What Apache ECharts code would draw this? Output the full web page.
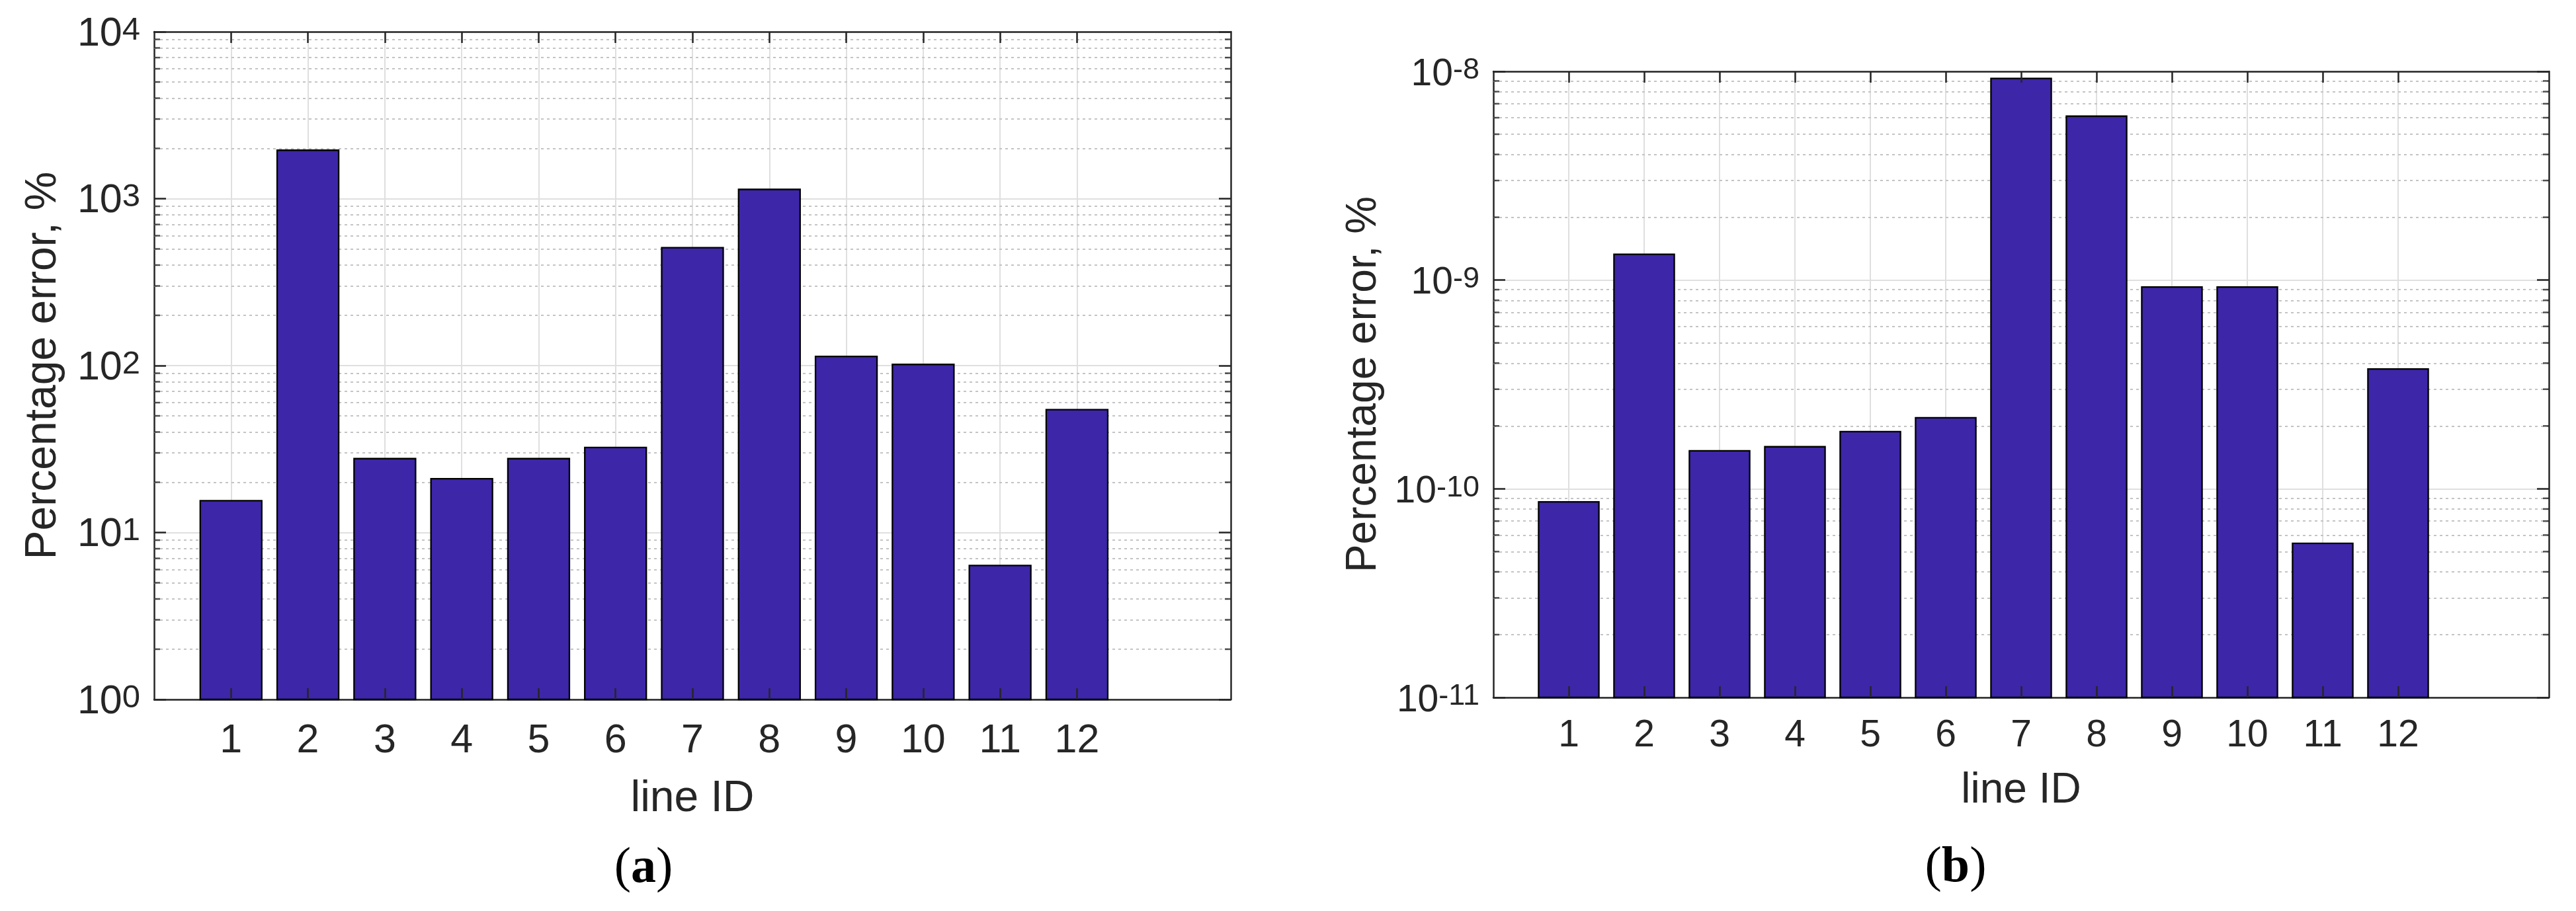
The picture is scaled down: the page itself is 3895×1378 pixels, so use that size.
<!DOCTYPE html>
<html>
<head>
<meta charset="utf-8">
<script src="https://cdn.jsdelivr.net/npm/echarts@6/dist/echarts.min.js"></script>
<style>
html,body{margin:0;padding:0;background:#fff;}
#c{width:3895px;height:1378px;}
</style>
</head>
<body>
<div id="c"></div>
<script>
// ---- data ----
const categories = ['1','2','3','4','5','6','7','8','9','10','11','12'];
const errorsA = [15.5, 1950, 27.7, 21.0, 27.7, 32.3, 509, 1136, 113.5, 101.6, 6.34, 54.5];
const errorsB = [8.65e-11, 1.33e-9, 1.52e-10, 1.59e-10, 1.88e-10, 2.19e-10, 9.25e-9, 6.10e-9, 9.26e-10, 9.26e-10, 5.48e-11, 3.75e-10];
const yRangeA = [1, 1e4];
const yRangeB = [1e-11, 1e-8];
const xName = 'line ID';
const yName = 'Percentage error, %';
const panelLabels = ['a', 'b'];

// ---- style ----
const AXIS = '#262626';
const FONT = 'Liberation Sans, Arial, Helvetica, sans-serif';
const BAR_FILL = '#3D26A8';
const slots = ['pad0'].concat(categories, ['pad13', 'pad14']);
const isCat = (i) => i >= 1 && i <= categories.length;

function minorValues(range) {
  const out = [];
  const e0 = Math.round(Math.log10(range[0]));
  const e1 = Math.round(Math.log10(range[1]));
  for (let e = e0; e < e1; e++) {
    for (let k = 2; k <= 9; k++) out.push(k * Math.pow(10, e));
  }
  return out;
}

function expLabel(v) {
  const e = Math.round(Math.log10(v));
  return '{b|10}{s|' + (e < 0 ? '-' : '') + Math.abs(e) + '}';
}

const panels = [
  { grid: {left: 233, top: 48, width: 1628, height: 1010}, values: errorsA, range: yRangeA,
    tick: 61, sup: 49, supPad: 32, padTop: 8, name: 66, xGap: 118, yGap: 134, xMargin: 33, yMargin: 21 },
  { grid: {left: 2258, top: 108, width: 1596, height: 947}, values: errorsB, range: yRangeB,
    tick: 57, sup: 45, supPad: 28, padTop: 10, name: 64, xGap: 109, yGap: 164, xMargin: 30, yMargin: 21 }
];

const option = {
  backgroundColor: '#ffffff',
  animation: false,
  grid: [], xAxis: [], yAxis: [], series: [],
  graphic: []
};

panels.forEach((p, gi) => {
  option.grid.push(Object.assign({containLabel: false, outerBoundsMode: 'none'}, p.grid));
  const xb = option.xAxis.length;
  const yb = option.yAxis.length;
  // main bottom x axis: line, labels, vertical grid
  option.xAxis.push({
    type: 'category', gridIndex: gi, data: slots, boundaryGap: false, position: 'bottom',
    axisLine: {show: true, onZero: false, lineStyle: {color: AXIS, width: 2.5}},
    axisTick: {show: false},
    axisLabel: {show: true, interval: (i) => isCat(i), margin: p.xMargin,
      fontSize: p.tick, fontFamily: FONT, color: AXIS},
    splitLine: {show: true, interval: (i) => isCat(i), lineStyle: {color: '#dfdfdf', width: 2}},
    name: xName, nameLocation: 'middle', nameGap: p.xGap,
    nameTextStyle: {fontSize: p.name, fontFamily: FONT, color: AXIS}
  });
  // overlay bottom ticks
  option.xAxis.push({
    type: 'category', gridIndex: gi, data: slots, boundaryGap: false, position: 'bottom', z: 10,
    axisLine: {show: false, onZero: false},
    axisTick: {show: true, inside: true, length: 17, interval: (i) => isCat(i), lineStyle: {color: AXIS, width: 2.5}},
    axisLabel: {show: false}, splitLine: {show: false}
  });
  // top axis
  option.xAxis.push({
    type: 'category', gridIndex: gi, data: slots, boundaryGap: false, position: 'top', z: 10,
    axisLine: {show: true, onZero: false, lineStyle: {color: AXIS, width: 2.5}},
    axisTick: {show: true, inside: true, length: 17, interval: (i) => isCat(i), lineStyle: {color: AXIS, width: 2.5}},
    axisLabel: {show: false}, splitLine: {show: false}
  });
  const richLabel = {
    b: {fontSize: p.tick, lineHeight: p.tick, verticalAlign: 'bottom', fontFamily: FONT, color: AXIS},
    s: {fontSize: p.sup, lineHeight: p.sup, verticalAlign: 'top', padding: [0, 0, p.supPad, 0], fontFamily: FONT, color: AXIS}
  };
  option.yAxis.push({
    type: 'log', logBase: 10, gridIndex: gi, position: 'left', min: p.range[0], max: p.range[1],
    axisLine: {show: true, onZero: false, lineStyle: {color: AXIS, width: 2.5}},
    axisTick: {show: true, inside: true, length: 18, lineStyle: {color: AXIS, width: 2.5}},
    axisLabel: {show: true, margin: p.yMargin, formatter: expLabel, rich: richLabel,
      padding: [p.padTop, 0, 0, 0], showMinLabel: true, showMaxLabel: true},
    splitLine: {show: true, lineStyle: {color: '#dfdfdf', width: 2}},
    name: yName, nameLocation: 'middle', nameGap: p.yGap,
    nameTextStyle: {fontSize: p.name, fontFamily: FONT, color: AXIS}
  });
  option.yAxis.push({
    type: 'log', logBase: 10, gridIndex: gi, position: 'right', min: p.range[0], max: p.range[1], z: 10,
    axisLine: {show: true, onZero: false, lineStyle: {color: AXIS, width: 2.5}},
    axisTick: {show: true, inside: true, length: 18, lineStyle: {color: AXIS, width: 2.5}},
    axisLabel: {show: false}, splitLine: {show: false}
  });

  const minors = minorValues(p.range);
  const lastIdx = slots.length - 1;
  // minor ticks + minor dotted grid
  option.series.push({
    type: 'scatter', xAxisIndex: xb, yAxisIndex: yb, z: 10, silent: true,
    symbol: 'rect', symbolSize: [9, 2.5],
    itemStyle: {color: AXIS},
    data: minors.flatMap(v => [
      {value: [0, v], symbolOffset: [4.5, 0]},
      {value: [lastIdx, v], symbolOffset: [-4.5, 0]}
    ]),
    markLine: {
      silent: true, z: 1, precision: 20, symbol: ['none', 'none'], animation: false,
      label: {show: false},
      lineStyle: {color: '#c4c4c4', type: [4, 5], width: 2},
      data: minors.map(v => ({yAxis: v}))
    }
  });
  // bars
  const yMin = p.range[0];
  option.series.push({
    type: 'custom', xAxisIndex: xb, yAxisIndex: yb, z: 3,
    encode: {x: 0, y: 1},
    data: p.values.map((v, i) => [i + 1, v]),
    renderItem: function (params, api) {
      const x = api.value(0), v = api.value(1);
      const top = api.coord([x, v]);
      const bottom = api.coord([x, yMin]);
      const w = api.size([1, 1])[0] * 0.8;
      return {
        type: 'rect',
        shape: {x: top[0] - w / 2, y: top[1], width: w, height: bottom[1] - top[1]},
        style: {fill: BAR_FILL, stroke: '#000000', lineWidth: 2.3}
      };
    }
  });
});

option.graphic = [
  {type: 'text', x: 973, y: 1314, style: {text: '({b|' + panelLabels[0] + '})', fontSize: 76,
    fontFamily: 'Liberation Serif, Times New Roman, serif', fill: '#000', align: 'center', verticalAlign: 'middle',
    rich: {b: {fontSize: 76, fontWeight: 'bold', fontFamily: 'Liberation Serif, Times New Roman, serif', fill: '#000'}}}},
  {type: 'text', x: 2957, y: 1313, style: {text: '({b|' + panelLabels[1] + '})', fontSize: 76,
    fontFamily: 'Liberation Serif, Times New Roman, serif', fill: '#000', align: 'center', verticalAlign: 'middle',
    rich: {b: {fontSize: 76, fontWeight: 'bold', fontFamily: 'Liberation Serif, Times New Roman, serif', fill: '#000'}}}}
];

const chart = echarts.init(document.getElementById('c'), null, {renderer: 'canvas'});
chart.setOption(option);
</script>
</body>
</html>
